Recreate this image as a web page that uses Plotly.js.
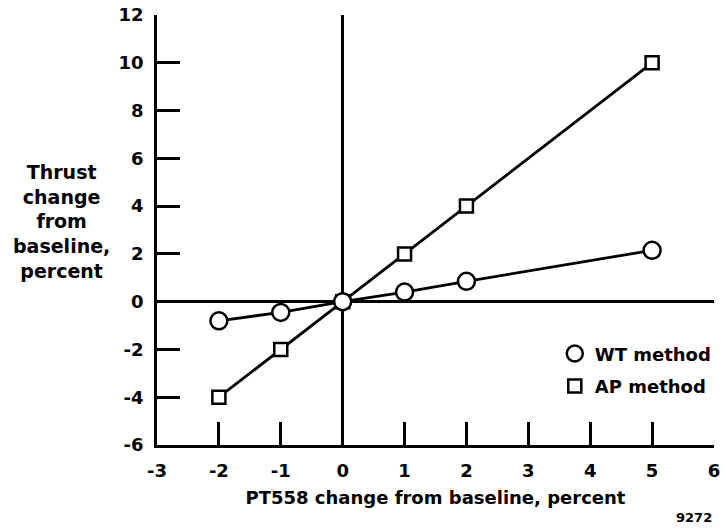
<!DOCTYPE html>
<html>
<head>
<meta charset="utf-8">
<script src="https://cdn.plot.ly/plotly-3.0.1.min.js"></script>
<style>
html,body{margin:0;padding:0;background:#fff;}
#chart{width:727px;height:531px;}
</style>
</head>
<body>
<div id="chart"></div>
<script>
var pt558Change = [-2, -1, 0, 1, 2, 5];
var wtThrust = [-0.8, -0.45, 0, 0.4, 0.85, 2.15];
var apThrust = [-4, -2, 0, 2, 4, 10];
var xTicks = [-3, -2, -1, 0, 1, 2, 3, 4, 5, 6];
var yTicks = [-6, -4, -2, 0, 2, 4, 6, 8, 10, 12];
var seriesNames = ["WT method", "AP method"];
var yTitleText = "Thrust<br>change<br>from<br>baseline,<br>percent";
var xTitleText = "PT558 change from baseline, percent";
var figureNumber = "9272";

var FONT = "DejaVu Sans, Liberation Sans, Arial, sans-serif";

var traces = [
  {x: pt558Change, y: apThrust, mode: "lines+markers", showlegend: false,
   line: {color: "#000", width: 2.8},
   marker: {symbol: "square", size: 13, color: "#fff", line: {color: "#000", width: 2.5}}},
  {x: pt558Change, y: wtThrust, mode: "lines+markers", showlegend: false,
   line: {color: "#000", width: 2.8},
   marker: {symbol: "circle", size: 17, color: "#fff", line: {color: "#000", width: 2.5}}},
  {x: [null], y: [null], mode: "markers", name: seriesNames[0], legendgroup: "wt",
   marker: {symbol: "circle", size: 16, color: "#fff", line: {color: "#000", width: 2.5}}},
  {x: [null], y: [null], mode: "markers", name: seriesNames[1], legendgroup: "ap",
   marker: {symbol: "square", size: 13, color: "#fff", line: {color: "#000", width: 2.5}}}
];

var layout = {
  width: 727, height: 531,
  margin: {l: 157, r: 10, t: 15, b: 86},
  paper_bgcolor: "#fff", plot_bgcolor: "#fff",
  font: {family: FONT, color: "#000", size: 18, weight: "bold"},
  showlegend: true,
  legend: {x: 1.005, xanchor: "right", y: 0.255, yanchor: "top",
           font: {family: FONT, size: 18, weight: "bold", color: "#000"},
           bgcolor: "rgba(0,0,0,0)", itemwidth: 30, tracegroupgap: 6},
  xaxis: {
    range: [-3, 6], tickvals: xTicks, ticktext: xTicks.map(String),
    ticks: "inside", ticklen: 23, tickwidth: 2.8, tickcolor: "#000",
    showline: true, linecolor: "#000", linewidth: 2.8,
    showgrid: false, zeroline: true, zerolinecolor: "#000", zerolinewidth: 2.8,
    tickfont: {family: FONT, size: 18, weight: "bold"},
    ticklabelstandoff: 8,
    title: {text: xTitleText, font: {family: FONT, size: 18, weight: "bold"}, standoff: 11}
  },
  yaxis: {
    range: [-6, 12], tickvals: yTicks, ticktext: yTicks.map(String),
    ticks: "inside", ticklen: 23, tickwidth: 2.8, tickcolor: "#000",
    showline: true, linecolor: "#000", linewidth: 2.8,
    showgrid: false, zeroline: true, zerolinecolor: "#000", zerolinewidth: 2.8,
    tickfont: {family: FONT, size: 18, weight: "bold"},
    ticklabelstandoff: 7
  },
  annotations: [
    {text: yTitleText, xref: "paper", yref: "paper", x: -0.172, y: 0.52,
     xanchor: "center", yanchor: "middle", showarrow: false, align: "center",
     font: {family: FONT, size: 19, weight: "bold", color: "#000"}},
    {text: figureNumber, xref: "paper", yref: "paper", x: 1.0, y: -0.168,
     xanchor: "right", yanchor: "middle", showarrow: false,
     font: {family: FONT, size: 13, weight: "bold", color: "#000"}}
  ]
};

Plotly.newPlot("chart", traces, layout, {staticPlot: true, displayModeBar: false});
</script>
</body>
</html>
